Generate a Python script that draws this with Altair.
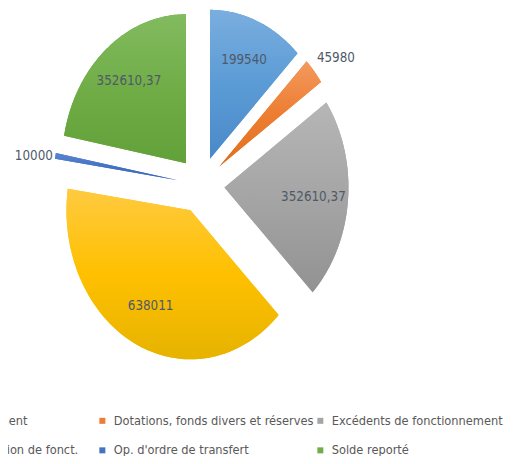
import altair as alt
import pandas as pd

# ---------------- data ----------------
categories = [
    "Subv. d'investissement",
    "Dotations, fonds divers et réserves",
    "Excédents de fonctionnement",
    "Virement de la section de fonct.",
    "Op. d'ordre de transfert",
    "Solde reporté",
]
values = [199540, 45980, 352610.37, 638011, 10000, 352610.37]

# ---------------- styles ----------------
base_colors = ["#5B9BD5", "#ED7D31", "#A5A5A5", "#FFC000", "#4472C4", "#70AD47"]
light_colors = ["#7aaedf", "#f39a5e", "#b6b6b6", "#ffca40", "#5b86d0", "#82bb60"]
dark_colors = ["#4a89c9", "#df6f1f", "#929292", "#e6b300", "#3a66b5", "#62a03a"]

FONT = "DejaVu Sans Condensed, Liberation Sans Narrow, sans-serif"
W, H = 501, 448
CX, CY = 193, 177      # pie centre (px)
RX, RY = 124, 149      # pie radii (px)
EXPLODE = 0.19
N = 90

xdom = [-CX / RX, (W - CX) / RX]
ydom = [-(H - CY) / RY, CY / RY]

df = pd.DataFrame({"idx": list(range(len(categories))), "cat": categories, "value": values})

xs = alt.X("px:Q", scale=alt.Scale(domain=xdom, nice=False, zero=False), axis=None)
ys = alt.Y("py:Q", scale=alt.Scale(domain=ydom, nice=False, zero=False), axis=None)

base = (
    alt.Chart(df)
    .transform_joinaggregate(total="sum(value)")
    .transform_window(cum="sum(value)", sort=[alt.SortField("idx")], frame=[None, 0])
    .transform_calculate(a0="2*PI*(datum.cum - datum.value)/datum.total")
    .transform_calculate(a1="2*PI*datum.cum/datum.total")
    .transform_calculate(mid="(datum.a0 + datum.a1)/2")
    .transform_calculate(frac="datum.value/datum.total")
    .transform_calculate(ox=f"{EXPLODE}*sin(datum.mid)")
    .transform_calculate(oy=f"{EXPLODE}*cos(datum.mid)")
)

poly = (
    base.transform_calculate(k=f"sequence(0, {N + 2})")
    .transform_flatten(["k"])
    .transform_calculate(ang=f"datum.a0 + (datum.a1 - datum.a0)*max(datum.k - 1, 0)/{N}")
    .transform_calculate(px="datum.ox + (datum.k == 0 ? 0 : sin(datum.ang))")
    .transform_calculate(py="datum.oy + (datum.k == 0 ? 0 : cos(datum.ang))")
)

legend = alt.Legend(
    orient="none",
    direction="horizontal",
    legendX=-130,
    legendY=406,
    columns=3,
    title=None,
    symbolType="square",
    symbolSize=36,
    symbolStrokeWidth=0,
    labelFont=FONT,
    labelFontSize=12.7,
    labelColor="#595959",
    labelOffset=5,
    labelLimit=400,
    columnPadding=0,
    rowPadding=16,
    gridAlign="all",
)

base_layer = poly.mark_line(filled=True, strokeWidth=0).encode(
    x=xs,
    y=ys,
    order=alt.Order("k:Q"),
    detail="cat:N",
    color=alt.Color("cat:N", scale=alt.Scale(domain=categories, range=base_colors), legend=legend),
)

layers = [base_layer]
for i in range(len(categories)):
    grad = alt.LinearGradient(
        gradient="linear",
        x1=0, x2=0, y1=0, y2=1,
        stops=[
            alt.GradientStop(color=light_colors[i], offset=0),
            alt.GradientStop(color=base_colors[i], offset=0.5),
            alt.GradientStop(color=dark_colors[i], offset=1),
        ],
    )
    layers.append(
        poly.transform_filter(f"datum.idx == {i}")
        .mark_line(filled=True, fill=grad, strokeWidth=0)
        .encode(x=xs, y=ys, order=alt.Order("k:Q"))
    )

labels = (
    base.transform_calculate(R="datum.frac < 0.05 ? 1.07 : 0.72")
    .transform_calculate(px="datum.ox + datum.R*sin(datum.mid)")
    .transform_calculate(py="datum.oy + datum.R*cos(datum.mid)")
    .transform_calculate(lab="replace(toString(datum.value), '.', ',')")
)
txt_kw = dict(font=FONT, fontSize=13.3, color="#4f5969", baseline="middle")
layers.append(
    labels.transform_filter("datum.frac >= 0.05")
    .mark_text(align="center", **txt_kw)
    .encode(x=xs, y=ys, text="lab:N")
)
layers.append(
    labels.transform_filter("datum.frac < 0.05 && sin(datum.mid) >= 0")
    .mark_text(align="left", dx=-4, dy=-7, **txt_kw)
    .encode(x=xs, y=ys, text="lab:N")
)
layers.append(
    labels.transform_filter("datum.frac < 0.05 && sin(datum.mid) < 0")
    .mark_text(align="right", dx=6, dy=2, **txt_kw)
    .encode(x=xs, y=ys, text="lab:N")
)

chart = (
    alt.layer(*layers)
    .properties(width=W, height=H, padding=0, autosize=alt.AutoSizeParams(type="none"))
    .configure_view(stroke=None)
)

chart.save("out.html", embed_options={"renderer": "svg", "actions": False})
